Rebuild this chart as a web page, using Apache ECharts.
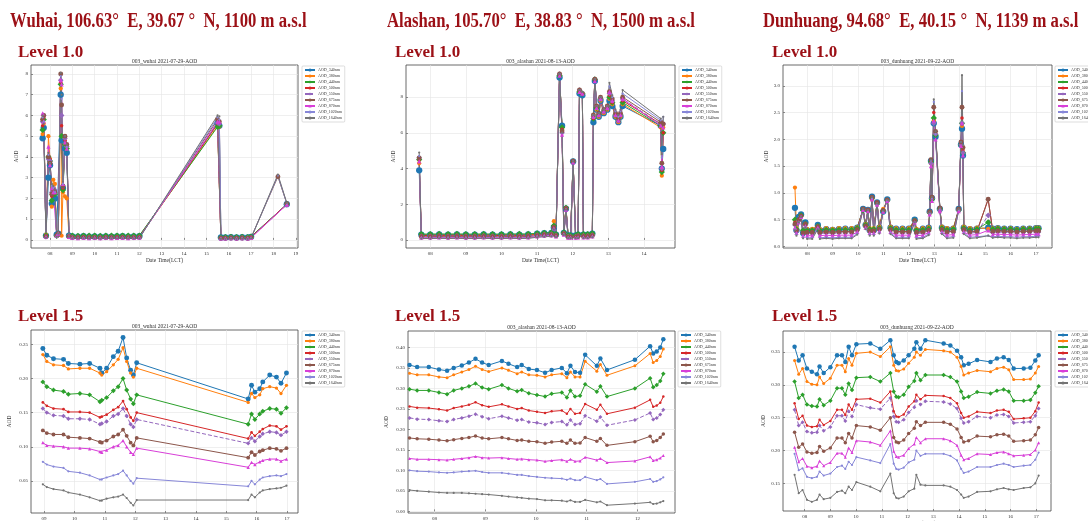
<!DOCTYPE html>
<html>
<head>
<meta charset="utf-8">
<script src="https://cdn.jsdelivr.net/npm/echarts@6.0.0/dist/echarts.min.js"></script>
<style>
  html, body { margin: 0; padding: 0; background: #fff; }
  #main { width: 1088px; height: 521px; }
</style>
</head>
<body>
<div id="main"></div>
<script>
// wavelengths, same order in every panel
const bands = ['AOD_340nm', 'AOD_380nm', 'AOD_440nm', 'AOD_500nm', 'AOD_550nm', 'AOD_675nm', 'AOD_870nm', 'AOD_1020nm', 'AOD_1640nm'];

// ---- Wuhai, level 1.0 ----
const wuhaiL10Time = [7.67, 7.72, 7.82, 7.93, 8.0, 8.08, 8.15, 8.22, 8.3, 8.37, 8.48, 8.52, 8.58, 8.67, 8.75, 8.85,
  9.0, 9.25, 9.5, 9.75, 10.0, 10.25, 10.5, 10.75, 11.0, 11.25, 11.5, 11.75, 12.0,
  15.5, 15.58, 15.65, 15.85, 16.1, 16.35, 16.6, 16.85, 17.0, 18.2, 18.6];
const wuhaiL10 = [
  [4.9, 5.4, 0.2, 3.0, 3.6, 1.75, 2.2, 2.0, 0.25, 0.3, 7.0, 4.8, 2.5, 4.4, 4.2, 0.2, 0.17, 0.16, 0.18, 0.16, 0.17, 0.16, 0.17, 0.16, 0.17, 0.18, 0.16, 0.17, 0.18, 5.6, 5.5, 0.12, 0.12, 0.13, 0.12, 0.13, 0.12, 0.15, null, 1.72],
  [5.1, 5.6, 0.25, 5.0, 3.9, 1.6, 2.9, 2.7, 0.2, 0.3, 7.3, 0.2, 2.3, 2.1, 2.0, 0.2, 0.15, 0.15, 0.16, 0.15, 0.15, 0.14, 0.15, 0.15, 0.16, 0.16, 0.15, 0.15, 0.16, 5.5, 5.45, 0.1, 0.11, 0.12, 0.11, 0.12, 0.11, 0.14, null, 1.7],
  [5.3, 5.8, 0.2, 4.0, 3.8, 1.9, 2.3, 2.2, 0.2, 0.3, 7.5, 5.0, 2.4, 4.6, 4.4, 0.2, 0.2, 0.19, 0.21, 0.2, 0.2, 0.19, 0.2, 0.2, 0.21, 0.21, 0.2, 0.2, 0.21, 5.45, 5.5, 0.12, 0.13, 0.14, 0.13, 0.14, 0.13, 0.16, null, 1.72],
  [5.5, 5.9, 0.2, 4.0, 3.9, 2.1, 2.4, 2.3, 0.2, 0.3, 7.6, 5.5, 2.5, 4.8, 4.6, 0.2, 0.14, 0.14, 0.15, 0.14, 0.14, 0.13, 0.14, 0.14, 0.15, 0.15, 0.14, 0.14, 0.15, 5.6, 5.6, 0.1, 0.1, 0.11, 0.1, 0.11, 0.1, 0.13, null, 1.72],
  [5.7, 6.0, 0.15, 3.9, 3.8, 2.3, 2.5, 2.4, 0.2, 0.3, 7.7, 6.0, 2.6, 4.9, 4.5, 0.2, 0.12, 0.12, 0.13, 0.12, 0.12, 0.11, 0.12, 0.12, 0.13, 0.13, 0.12, 0.12, 0.13, 5.65, 5.6, 0.09, 0.09, 0.1, 0.09, 0.1, 0.09, 0.12, null, 1.7],
  [5.8, 6.0, 0.15, 4.0, 3.7, 2.2, 2.4, 2.3, 0.2, 0.3, 8.0, 6.5, 2.6, 5.0, 4.6, 0.15, 0.11, 0.11, 0.12, 0.11, 0.11, 0.1, 0.11, 0.11, 0.12, 0.12, 0.11, 0.11, 0.12, 5.8, 5.7, 0.08, 0.08, 0.09, 0.08, 0.09, 0.08, 0.11, 3.05, 1.75],
  [6.1, 5.7, 0.15, 4.5, 3.6, 2.5, 2.3, 2.3, 0.2, 0.3, 7.7, 7.5, 2.7, 4.7, 4.4, 0.15, 0.1, 0.09, 0.1, 0.09, 0.1, 0.09, 0.1, 0.09, 0.1, 0.1, 0.09, 0.1, 0.11, 5.7, 5.7, 0.07, 0.07, 0.08, 0.07, 0.08, 0.07, 0.1, null, 1.7],
  [5.9, 5.7, 0.1, 4.1, 3.7, 2.6, 2.5, 2.3, 0.15, 0.3, 7.9, 6.8, 2.7, 5.0, 4.5, 0.15, 0.08, 0.08, 0.09, 0.08, 0.08, 0.07, 0.08, 0.08, 0.09, 0.09, 0.08, 0.08, 0.09, 5.9, 5.8, 0.06, 0.06, 0.07, 0.06, 0.07, 0.06, 0.09, 3.1, 1.75],
  [6.0, 5.6, 0.1, 4.2, 3.7, 2.7, 2.6, 2.4, 0.15, 0.3, 8.05, 7.0, 2.8, 5.0, 4.6, 0.15, 0.07, 0.07, 0.08, 0.07, 0.07, 0.06, 0.07, 0.07, 0.08, 0.08, 0.07, 0.07, 0.08, 6.0, 5.95, 0.05, 0.05, 0.06, 0.05, 0.06, 0.05, 0.08, 3.15, 1.78]
];
const wuhaiL10XTicks = [8, 9, 10, 11, 12, 13, 14, 15, 16, 17, 18, 19];
const wuhaiL10YTicks = [0, 1, 2, 3, 4, 5, 6, 7, 8];

// ---- Alashan, level 1.0 ----
const alashanL10Time = [7.69, 7.75, 8.0, 8.25, 8.5, 8.75, 9.0, 9.25, 9.5, 9.75, 10.0, 10.25, 10.5, 10.75,
  11.0, 11.2, 11.4, 11.47, 11.53, 11.63, 11.7, 11.75, 11.81, 11.87, 11.94, 12.01, 12.08, 12.15, 12.19, 12.27, 12.3,
  12.42, 12.55, 12.58, 12.62, 12.67, 12.73, 12.78, 12.87, 12.97, 13.03, 13.11, 13.2, 13.28, 13.34, 13.4, 14.47, 14.5, 14.54];
const alashanL10 = [
  [3.9, 0.3, 0.3, 0.31, 0.3, 0.31, 0.3, 0.3, 0.31, 0.3, 0.3, 0.31, 0.3, 0.31, 0.35, 0.38, 0.4, 0.7, 0.3, 9.1, 6.4, 0.4, 1.75, 0.25, 0.25, 4.4, 0.25, 0.3, 8.2, 8.1, 0.3, 0.3, 0.35, 6.6, 8.9, 7.3, 6.9, 7.8, 7.1, 7.3, 7.8, 7.5, 6.9, 6.6, 6.9, 7.5, 6.4, 4.0, 5.1],
  [4.3, 0.28, 0.27, 0.28, 0.27, 0.28, 0.27, 0.27, 0.28, 0.27, 0.27, 0.28, 0.27, 0.28, 0.32, 0.36, 0.38, 1.05, 0.3, 9.2, 6.2, 0.4, 1.8, 0.22, 0.22, 4.4, 0.22, 0.28, 8.3, 8.2, 0.28, 0.28, 0.32, 6.9, 9.0, 7.3, 6.9, 7.8, 7.1, 7.3, 7.9, 7.6, 6.9, 6.6, 6.9, 7.6, 6.3, 3.6, 6.3],
  [4.5, 0.33, 0.33, 0.34, 0.33, 0.34, 0.33, 0.33, 0.34, 0.33, 0.33, 0.34, 0.34, 0.34, 0.37, 0.4, 0.42, 0.8, 0.32, 9.2, 6.3, 0.42, 1.8, 0.25, 0.25, 4.4, 0.25, 0.33, 8.3, 8.2, 0.33, 0.33, 0.37, 6.8, 9.0, 7.4, 7.0, 7.9, 7.2, 7.4, 8.0, 7.7, 7.0, 6.7, 7.0, 7.7, 6.4, 3.8, 6.0],
  [4.5, 0.25, 0.25, 0.26, 0.25, 0.26, 0.25, 0.25, 0.26, 0.25, 0.25, 0.26, 0.25, 0.26, 0.3, 0.33, 0.35, 0.75, 0.28, 9.25, 6.2, 0.38, 1.8, 0.2, 0.2, 4.45, 0.2, 0.26, 8.35, 8.2, 0.26, 0.26, 0.3, 6.8, 9.0, 7.4, 7.0, 7.9, 7.2, 7.4, 8.1, 7.7, 7.0, 6.7, 7.0, 7.8, 6.5, 3.9, 6.0],
  [4.6, 0.2, 0.21, 0.22, 0.21, 0.22, 0.21, 0.21, 0.22, 0.21, 0.21, 0.22, 0.21, 0.22, 0.26, 0.3, 0.32, 0.7, 0.25, 9.3, 6.0, 0.36, 1.75, 0.18, 0.18, 4.4, 0.18, 0.22, 8.4, 8.2, 0.22, 0.22, 0.26, 6.9, 9.0, 7.5, 7.0, 7.9, 7.2, 7.4, 8.2, 7.8, 7.0, 6.7, 7.0, 7.9, 6.5, 4.0, 6.5],
  [4.6, 0.18, 0.18, 0.19, 0.18, 0.19, 0.18, 0.18, 0.19, 0.18, 0.18, 0.19, 0.18, 0.19, 0.24, 0.28, 0.3, 0.7, 0.24, 9.3, 6.1, 0.35, 1.75, 0.17, 0.17, 4.4, 0.17, 0.2, 8.4, 8.2, 0.2, 0.2, 0.24, 7.0, 9.0, 7.5, 7.1, 8.0, 7.3, 7.5, 8.3, 7.9, 7.1, 6.8, 7.1, 8.0, 6.6, 4.3, 6.5],
  [4.4, 0.13, 0.13, 0.14, 0.13, 0.14, 0.13, 0.13, 0.14, 0.13, 0.13, 0.14, 0.13, 0.14, 0.2, 0.24, 0.26, 0.65, 0.2, 9.2, 5.9, 0.3, 1.7, 0.13, 0.13, 4.35, 0.13, 0.15, 8.3, 8.2, 0.15, 0.15, 0.2, 6.9, 8.9, 7.4, 7.0, 7.9, 7.2, 7.4, 8.3, 7.8, 7.0, 6.7, 7.0, 7.9, 6.4, 4.1, 6.3],
  [4.7, 0.1, 0.1, 0.11, 0.1, 0.11, 0.1, 0.1, 0.11, 0.1, 0.1, 0.11, 0.1, 0.11, 0.17, 0.2, 0.22, 0.6, 0.18, 9.3, 6.0, 0.3, 1.7, 0.11, 0.11, 4.4, 0.11, 0.12, 8.4, 8.3, 0.12, 0.12, 0.17, 7.0, 9.0, 7.5, 7.1, 8.0, 7.3, 7.5, 8.6, 8.0, 7.2, 6.9, 7.2, 8.2, 6.7, 4.6, 6.9],
  [4.9, 0.08, 0.08, 0.09, 0.08, 0.09, 0.08, 0.08, 0.09, 0.08, 0.08, 0.09, 0.08, 0.09, 0.15, 0.18, 0.2, 0.6, 0.16, 9.3, 6.0, 0.28, 1.7, 0.1, 0.1, 4.4, 0.1, 0.1, 8.4, 8.3, 0.1, 0.1, 0.15, 7.0, 9.0, 7.5, 7.1, 8.0, 7.3, 7.5, 8.8, 8.1, 7.3, 7.0, 7.3, 8.4, 6.8, 4.8, 6.9]
];
const alashanL10XTicks = [8, 9, 10, 11, 12, 13, 14];
const alashanL10YTicks = [0, 2, 4, 6, 8];

// ---- Dunhuang, level 1.0 ----
const dunhuangL10Time = [7.52, 7.58, 7.67, 7.76, 7.84, 7.93,
  8.0, 8.2, 8.42, 8.5, 8.75, 9.0, 9.25, 9.5, 9.75, 9.97,
  10.2, 10.3, 10.39, 10.46, 10.55, 10.62, 10.75, 10.84, 10.99,
  11.15, 11.28, 11.5, 11.75,
  12.0, 12.23, 12.3, 12.55, 12.78, 12.82, 12.87, 12.91, 12.98,
  13.05, 13.22, 13.3, 13.5, 13.75, 13.96,
  14.05, 14.09, 14.13, 14.16, 14.4, 14.68,
  15.12, 15.3, 15.5, 15.75,
  16.0, 16.25, 16.5, 16.75, 17.0, 17.1];
const dunhuangL10 = [
  [0.72, 0.3, 0.55, 0.6, 0.25, 0.45, 0.3, 0.3, 0.4, 0.3, 0.32, 0.31, 0.32, 0.33, 0.32, 0.35, 0.7, 0.4, 0.68, 0.3, 0.93, 0.3, 0.82, 0.35, 0.65, 0.88, 0.35, 0.33, 0.33, 0.33, 0.5, 0.3, 0.33, 0.35, 0.65, 1.6, 0.9, 2.3, 2.05, 0.7, 0.35, 0.32, 0.33, 0.7, 1.9, 2.2, 1.7, 0.35, 0.32, 0.33, 0.35, 0.33, 0.34, 0.33, 0.33, 0.32, 0.33, 0.33, 0.34, 0.34],
  [1.1, 0.35, 0.5, 0.55, 0.28, 0.4, 0.33, 0.33, 0.38, 0.33, 0.34, 0.33, 0.34, 0.34, 0.34, 0.36, 0.68, 0.42, 0.66, 0.34, 0.88, 0.34, 0.8, 0.37, 0.7, 0.86, 0.37, 0.34, 0.34, 0.34, 0.48, 0.33, 0.34, 0.36, 0.62, 1.55, 0.88, 2.35, 2.1, 0.68, 0.37, 0.34, 0.35, 0.68, 1.9, 2.25, 1.75, 0.37, 0.34, 0.35, 0.33, 0.34, 0.35, 0.34, 0.34, 0.33, 0.34, 0.34, 0.35, 0.35],
  [0.5, 0.32, 0.5, 0.58, 0.3, 0.42, 0.3, 0.3, 0.38, 0.3, 0.31, 0.3, 0.31, 0.31, 0.31, 0.34, 0.68, 0.4, 0.67, 0.32, 0.9, 0.32, 0.8, 0.34, 0.66, 0.86, 0.34, 0.31, 0.31, 0.31, 0.48, 0.3, 0.31, 0.33, 0.63, 1.58, 0.88, 2.4, 2.08, 0.7, 0.34, 0.31, 0.32, 0.68, 1.9, 2.3, 1.75, 0.34, 0.31, 0.32, 0.45, 0.32, 0.33, 0.32, 0.32, 0.31, 0.32, 0.32, 0.33, 0.33],
  [0.45, 0.3, 0.5, 0.57, 0.26, 0.42, 0.27, 0.27, 0.37, 0.27, 0.28, 0.27, 0.28, 0.28, 0.28, 0.32, 0.69, 0.38, 0.67, 0.3, 0.9, 0.3, 0.8, 0.33, 0.66, 0.86, 0.32, 0.28, 0.28, 0.28, 0.48, 0.27, 0.28, 0.31, 0.63, 1.6, 0.9, 2.5, 2.1, 0.7, 0.32, 0.28, 0.29, 0.68, 1.92, 2.4, 1.8, 0.32, 0.28, 0.29, 0.88, 0.29, 0.3, 0.29, 0.29, 0.28, 0.29, 0.29, 0.3, 0.3],
  [0.4, 0.28, 0.48, 0.56, 0.24, 0.4, 0.24, 0.24, 0.36, 0.24, 0.25, 0.24, 0.25, 0.25, 0.25, 0.3, 0.69, 0.37, 0.68, 0.28, 0.9, 0.28, 0.8, 0.31, 0.66, 0.86, 0.3, 0.25, 0.25, 0.25, 0.47, 0.24, 0.25, 0.29, 0.63, 1.55, 0.9, 2.3, 2.1, 0.68, 0.3, 0.25, 0.26, 0.68, 1.9, 2.3, 1.75, 0.3, 0.25, 0.26, 0.58, 0.26, 0.27, 0.26, 0.26, 0.25, 0.26, 0.26, 0.27, 0.27],
  [0.42, 0.3, 0.5, 0.57, 0.25, 0.42, 0.26, 0.26, 0.37, 0.26, 0.27, 0.26, 0.27, 0.27, 0.27, 0.31, 0.7, 0.38, 0.68, 0.29, 0.92, 0.29, 0.82, 0.32, 0.67, 0.87, 0.31, 0.27, 0.27, 0.27, 0.48, 0.26, 0.27, 0.3, 0.65, 1.62, 0.92, 2.6, 2.15, 0.72, 0.31, 0.27, 0.28, 0.7, 1.95, 2.6, 1.85, 0.31, 0.27, 0.28, 0.88, 0.28, 0.29, 0.28, 0.28, 0.27, 0.28, 0.28, 0.29, 0.29],
  [0.35, 0.25, 0.45, 0.55, 0.2, 0.38, 0.2, 0.2, 0.35, 0.2, 0.21, 0.2, 0.21, 0.21, 0.21, 0.27, 0.68, 0.35, 0.66, 0.25, 0.88, 0.25, 0.78, 0.28, 0.65, 0.85, 0.27, 0.21, 0.21, 0.21, 0.45, 0.2, 0.21, 0.26, 0.6, 1.5, 0.85, 2.35, 2.0, 0.66, 0.27, 0.21, 0.22, 0.66, 1.88, 2.3, 1.7, 0.27, 0.21, 0.22, 0.3, 0.22, 0.23, 0.22, 0.22, 0.21, 0.22, 0.22, 0.23, 0.23],
  [0.32, 0.22, 0.45, 0.55, 0.17, 0.36, 0.16, 0.16, 0.33, 0.16, 0.17, 0.16, 0.17, 0.17, 0.17, 0.24, 0.7, 0.33, 0.68, 0.22, 0.9, 0.22, 0.8, 0.26, 0.66, 0.86, 0.25, 0.17, 0.17, 0.17, 0.45, 0.16, 0.17, 0.23, 0.62, 1.6, 0.9, 2.7, 2.1, 0.7, 0.25, 0.17, 0.18, 0.68, 1.95, 2.9, 1.9, 0.25, 0.17, 0.18, 0.2, 0.18, 0.19, 0.18, 0.18, 0.17, 0.18, 0.18, 0.19, 0.19],
  [0.3, 0.2, 0.45, 0.55, 0.15, 0.35, 0.14, 0.14, 0.32, 0.14, 0.15, 0.14, 0.15, 0.15, 0.15, 0.22, 0.7, 0.32, 0.68, 0.2, 0.92, 0.2, 0.8, 0.24, 0.67, 0.87, 0.23, 0.15, 0.15, 0.15, 0.45, 0.14, 0.15, 0.21, 0.64, 1.62, 0.92, 2.75, 2.15, 0.72, 0.23, 0.15, 0.16, 0.7, 1.95, 3.2, 1.9, 0.23, 0.15, 0.16, 0.2, 0.16, 0.17, 0.16, 0.16, 0.15, 0.16, 0.16, 0.17, 0.17]
];
const dunhuangL10XTicks = [8, 9, 10, 11, 12, 13, 14, 15, 16, 17];
const dunhuangL10YTicks = [0, 0.5, 1, 1.5, 2, 2.5, 3];

// ---- Wuhai, level 1.5 ----
const wuhaiL15Time = [8.96, 9.09, 9.31, 9.64, 9.8, 10.18, 10.5, 10.84, 10.9, 11.06, 11.28, 11.44, 11.6, 11.72, 11.85, 11.94, 12.05,
  15.72, 15.83, 15.94, 16.1, 16.2, 16.43, 16.65, 16.8, 16.98];
const wuhaiL15 = [
  [0.244, 0.234, 0.229, 0.228, 0.222, 0.221, 0.222, 0.215, 0.208, 0.215, 0.232, 0.24, 0.26, 0.23, 0.212, 0.205, 0.223, 0.17, 0.19, 0.18, 0.185, 0.195, 0.205, 0.202, 0.193, 0.208],
  [0.235, 0.225, 0.22, 0.219, 0.214, 0.215, 0.215, 0.208, 0.205, 0.21, 0.22, 0.228, 0.245, 0.225, 0.208, 0.202, 0.215, 0.165, 0.178, 0.172, 0.176, 0.185, 0.188, 0.186, 0.178, 0.19],
  [0.195, 0.188, 0.183, 0.181, 0.177, 0.178, 0.176, 0.166, 0.168, 0.172, 0.182, 0.188, 0.2, 0.183, 0.17, 0.163, 0.176, 0.133, 0.148, 0.14, 0.148, 0.152, 0.156, 0.155, 0.149, 0.157],
  [0.165, 0.16, 0.156, 0.155, 0.151, 0.151, 0.15, 0.143, 0.144, 0.147, 0.154, 0.158, 0.167, 0.155, 0.143, 0.138, 0.15, 0.112, 0.121, 0.116, 0.122, 0.126, 0.131, 0.13, 0.125, 0.13],
  [0.156, 0.15, 0.146, 0.145, 0.141, 0.141, 0.14, 0.133, 0.134, 0.137, 0.145, 0.148, 0.156, 0.145, 0.133, 0.129, 0.14, 0.105, 0.113, 0.108, 0.115, 0.119, 0.122, 0.121, 0.117, 0.122],
  [0.124, 0.12, 0.118, 0.118, 0.114, 0.113, 0.112, 0.107, 0.106, 0.109, 0.115, 0.118, 0.125, 0.116, 0.106, 0.102, 0.113, 0.084, 0.092, 0.088, 0.093, 0.095, 0.098, 0.097, 0.094, 0.098],
  [0.106, 0.102, 0.101, 0.1, 0.098, 0.098, 0.097, 0.093, 0.092, 0.095, 0.1, 0.102, 0.109, 0.1, 0.092, 0.089, 0.098, 0.07, 0.077, 0.074, 0.078, 0.08, 0.082, 0.082, 0.079, 0.082],
  [0.078, 0.074, 0.071, 0.069, 0.064, 0.062, 0.058, 0.052, 0.052, 0.055, 0.058, 0.06, 0.065, 0.058, 0.05, 0.046, 0.054, 0.042, 0.05, 0.045, 0.052, 0.055, 0.057, 0.058, 0.057, 0.06],
  [0.045, 0.041, 0.038, 0.036, 0.033, 0.03, 0.026, 0.021, 0.021, 0.024, 0.026, 0.027, 0.03, 0.025, 0.018, 0.014, 0.022, 0.022, 0.03, 0.026, 0.033, 0.036, 0.038, 0.039, 0.04, 0.043]
];
const wuhaiL15XTicks = [9, 10, 11, 12, 13, 14, 15, 16, 17];
const wuhaiL15YTicks = [0.05, 0.1, 0.15, 0.2, 0.25];

// ---- Alashan, level 1.5 ----
const alashanL15Time = [7.51, 7.66, 7.89, 8.09, 8.25, 8.38, 8.54, 8.68, 8.81, 8.94, 9.07, 9.33, 9.46, 9.63, 9.72, 9.86, 10.02,
  10.18, 10.31, 10.51, 10.61, 10.68, 10.77, 10.87, 10.97, 11.2, 11.27, 11.4, 11.95, 12.25, 12.31, 12.38, 12.45, 12.51];
const alashanL15 = [
  [0.357, 0.352, 0.352, 0.346, 0.343, 0.35, 0.356, 0.363, 0.372, 0.363, 0.357, 0.367, 0.36, 0.352, 0.357, 0.347, 0.345, 0.338, 0.345, 0.35, 0.337, 0.355, 0.34, 0.338, 0.382, 0.355, 0.373, 0.345, 0.37, 0.403, 0.385, 0.39, 0.4, 0.42],
  [0.337, 0.333, 0.333, 0.328, 0.326, 0.333, 0.34, 0.346, 0.354, 0.346, 0.341, 0.35, 0.344, 0.336, 0.34, 0.333, 0.332, 0.328, 0.333, 0.336, 0.326, 0.34, 0.328, 0.328, 0.366, 0.342, 0.358, 0.332, 0.355, 0.385, 0.363, 0.368, 0.378, 0.396],
  [0.298, 0.295, 0.295, 0.29, 0.286, 0.295, 0.3, 0.305, 0.312, 0.302, 0.298, 0.308, 0.3, 0.293, 0.296, 0.288, 0.284, 0.28, 0.287, 0.29, 0.278, 0.295, 0.28, 0.282, 0.31, 0.292, 0.305, 0.28, 0.3, 0.325, 0.303, 0.308, 0.318, 0.336],
  [0.256, 0.253, 0.252, 0.249, 0.246, 0.252, 0.256, 0.26, 0.266, 0.259, 0.255, 0.261, 0.256, 0.25, 0.252, 0.246, 0.243, 0.24, 0.244, 0.246, 0.238, 0.25, 0.238, 0.24, 0.262, 0.248, 0.26, 0.238, 0.253, 0.272, 0.255, 0.258, 0.265, 0.28],
  [0.228, 0.225, 0.224, 0.221, 0.219, 0.224, 0.228, 0.232, 0.237, 0.231, 0.226, 0.232, 0.228, 0.222, 0.224, 0.218, 0.216, 0.212, 0.217, 0.219, 0.211, 0.223, 0.212, 0.214, 0.233, 0.22, 0.23, 0.21, 0.223, 0.24, 0.224, 0.228, 0.236, 0.248],
  [0.179, 0.177, 0.176, 0.174, 0.172, 0.175, 0.178, 0.18, 0.184, 0.179, 0.177, 0.18, 0.177, 0.173, 0.174, 0.171, 0.17, 0.166, 0.169, 0.171, 0.166, 0.174, 0.166, 0.167, 0.18, 0.171, 0.178, 0.161, 0.17, 0.183, 0.17, 0.173, 0.18, 0.189],
  [0.129, 0.127, 0.127, 0.126, 0.125, 0.127, 0.129, 0.131, 0.134, 0.131, 0.13, 0.131, 0.129, 0.127, 0.128, 0.126, 0.125, 0.122, 0.124, 0.126, 0.122, 0.127, 0.122, 0.123, 0.132, 0.125, 0.129, 0.119, 0.123, 0.133, 0.124, 0.126, 0.13, 0.136],
  [0.1, 0.098, 0.097, 0.095, 0.094, 0.095, 0.097, 0.098, 0.099, 0.096, 0.094, 0.094, 0.092, 0.089, 0.089, 0.086, 0.084, 0.082, 0.081, 0.08, 0.077, 0.08, 0.076, 0.076, 0.084, 0.076, 0.079, 0.067, 0.072, 0.079, 0.072, 0.074, 0.078, 0.083],
  [0.052, 0.05, 0.048, 0.046, 0.045, 0.045, 0.045, 0.044, 0.043, 0.042, 0.041, 0.038, 0.036, 0.034, 0.033, 0.031, 0.03, 0.027, 0.027, 0.026, 0.024, 0.027, 0.023, 0.023, 0.028, 0.022, 0.024, 0.015, 0.019, 0.022, 0.018, 0.019, 0.022, 0.025]
];
const alashanL15XTicks = [8, 9, 10, 11, 12];
const alashanL15YTicks = [0, 0.05, 0.1, 0.15, 0.2, 0.25, 0.3, 0.35, 0.4];

// ---- Dunhuang, level 1.5 ----
const dunhuangL15Time = [7.61, 7.77, 7.92, 8.09, 8.28, 8.48, 8.58, 8.74, 9.0, 9.26, 9.45, 9.58, 9.71, 9.84, 10.01, 10.55, 10.94,
  11.33, 11.46, 11.56, 11.65, 11.85, 12.04, 12.26, 12.34, 12.5, 12.69, 13.4, 13.66, 13.92, 14.08, 14.18, 14.37, 14.7,
  15.22, 15.47, 15.73, 15.93, 16.12, 16.51, 16.77, 16.96, 17.09];
const dunhuangL15 = [
  [0.358, 0.337, 0.345, 0.325, 0.32, 0.316, 0.328, 0.318, 0.327, 0.345, 0.345, 0.335, 0.358, 0.345, 0.362, 0.363, 0.355, 0.368, 0.345, 0.335, 0.333, 0.337, 0.345, 0.355, 0.365, 0.355, 0.368, 0.363, 0.36, 0.352, 0.342, 0.33, 0.332, 0.338, 0.335, 0.34, 0.342, 0.338, 0.325, 0.325, 0.326, 0.337, 0.345],
  [0.337, 0.316, 0.325, 0.305, 0.301, 0.3, 0.312, 0.302, 0.31, 0.33, 0.33, 0.32, 0.34, 0.33, 0.348, 0.35, 0.343, 0.358, 0.33, 0.322, 0.321, 0.324, 0.333, 0.342, 0.35, 0.345, 0.354, 0.352, 0.35, 0.342, 0.328, 0.315, 0.318, 0.322, 0.32, 0.325, 0.327, 0.323, 0.308, 0.308, 0.309, 0.318, 0.328],
  [0.305, 0.28, 0.285, 0.27, 0.268, 0.267, 0.278, 0.269, 0.276, 0.295, 0.295, 0.285, 0.302, 0.292, 0.311, 0.312, 0.305, 0.318, 0.29, 0.282, 0.281, 0.285, 0.297, 0.306, 0.318, 0.307, 0.315, 0.315, 0.312, 0.305, 0.29, 0.28, 0.282, 0.289, 0.287, 0.291, 0.293, 0.29, 0.276, 0.276, 0.277, 0.288, 0.298],
  [0.272, 0.248, 0.253, 0.238, 0.236, 0.237, 0.247, 0.239, 0.245, 0.262, 0.262, 0.254, 0.27, 0.262, 0.278, 0.279, 0.273, 0.29, 0.26, 0.252, 0.251, 0.255, 0.267, 0.275, 0.285, 0.278, 0.284, 0.283, 0.28, 0.272, 0.257, 0.25, 0.252, 0.259, 0.257, 0.261, 0.262, 0.259, 0.248, 0.249, 0.25, 0.26, 0.273],
  [0.262, 0.238, 0.243, 0.229, 0.227, 0.228, 0.238, 0.23, 0.236, 0.253, 0.253, 0.245, 0.26, 0.252, 0.27, 0.265, 0.263, 0.28, 0.252, 0.244, 0.243, 0.247, 0.258, 0.266, 0.276, 0.27, 0.275, 0.274, 0.271, 0.264, 0.249, 0.242, 0.244, 0.252, 0.25, 0.254, 0.255, 0.252, 0.242, 0.243, 0.244, 0.253, 0.264],
  [0.228, 0.205, 0.21, 0.198, 0.196, 0.197, 0.206, 0.199, 0.204, 0.219, 0.219, 0.212, 0.226, 0.219, 0.238, 0.236, 0.231, 0.25, 0.22, 0.213, 0.212, 0.216, 0.226, 0.234, 0.244, 0.238, 0.243, 0.243, 0.24, 0.233, 0.22, 0.213, 0.215, 0.222, 0.221, 0.224, 0.225, 0.222, 0.214, 0.215, 0.216, 0.224, 0.235],
  [0.205, 0.183, 0.188, 0.176, 0.174, 0.176, 0.184, 0.177, 0.182, 0.196, 0.196, 0.19, 0.204, 0.197, 0.215, 0.213, 0.208, 0.23, 0.199, 0.191, 0.19, 0.193, 0.203, 0.21, 0.22, 0.212, 0.218, 0.218, 0.215, 0.208, 0.193, 0.186, 0.188, 0.195, 0.194, 0.197, 0.198, 0.195, 0.192, 0.193, 0.194, 0.201, 0.212],
  [0.195, 0.17, 0.173, 0.16, 0.158, 0.16, 0.168, 0.162, 0.165, 0.175, 0.177, 0.172, 0.183, 0.178, 0.19, 0.185, 0.181, 0.21, 0.18, 0.172, 0.171, 0.174, 0.182, 0.186, 0.2, 0.192, 0.195, 0.195, 0.192, 0.185, 0.172, 0.166, 0.168, 0.175, 0.175, 0.178, 0.18, 0.178, 0.175, 0.177, 0.178, 0.186, 0.197],
  [0.163, 0.135, 0.14, 0.125, 0.122, 0.125, 0.133, 0.126, 0.128, 0.137, 0.139, 0.135, 0.145, 0.14, 0.152, 0.145, 0.138, 0.165, 0.135, 0.128, 0.127, 0.13, 0.138, 0.142, 0.163, 0.148, 0.147, 0.147, 0.145, 0.14, 0.133, 0.128, 0.13, 0.137, 0.138, 0.141, 0.143, 0.141, 0.14, 0.143, 0.144, 0.15, 0.162]
];
const dunhuangL15XTicks = [8, 9, 10, 11, 12, 13, 14, 15, 16, 17];
const dunhuangL15YTicks = [0.15, 0.2, 0.25, 0.3, 0.35];

// matplotlib-like look
const bandColors = ['#1f77b4', '#ff7f0e', '#2ca02c', '#d62728', '#9467bd', '#8c564b', '#d83fd8', '#8787d8', '#747474'];
const bandSymbols = ['circle', 'circle', 'diamond', 'circle', 'diamond', 'circle', 'triangle', 'circle', 'circle'];
const bandSizes = [4.5, 3, 4.5, 2.5, 4, 3.5, 3, 1.5, 1.5];
const serif = '"Liberation Serif", "DejaVu Serif", serif';

// level 1.0 panels get fatter markers (the dense bands in the slide)
const panels = [
  { title: '003_wuhai 2021-07-29-AOD', time: wuhaiL10Time, values: wuhaiL10, xTicks: wuhaiL10XTicks, yTicks: wuhaiL10YTicks,
    yDigits: 0, xRange: [7.15, 19.1], yRange: [-0.39, 8.43], box: [31, 65, 267, 183], legendAt: [302, 66], yGap: 11, mark: 1.4 },
  { title: '003_alashan 2021-08-13-AOD', time: alashanL10Time, values: alashanL10, xTicks: alashanL10XTicks, yTicks: alashanL10YTicks,
    yDigits: 0, xRange: [7.32, 14.87], yRange: [-0.45, 9.8], box: [406, 65, 269, 183], legendAt: [679, 66], yGap: 9, mark: 1.4 },
  { title: '003_dunhuang 2021-09-22-AOD', time: dunhuangL10Time, values: dunhuangL10, xTicks: dunhuangL10XTicks, yTicks: dunhuangL10YTicks,
    yDigits: 1, xRange: [7.05, 17.63], yRange: [-0.03, 3.39], box: [783, 65, 269, 183], legendAt: [1055, 66], yGap: 13, mark: 1.4 },
  { title: '003_wuhai 2021-07-29-AOD', time: wuhaiL15Time, values: wuhaiL15, xTicks: wuhaiL15XTicks, yTicks: wuhaiL15YTicks,
    yDigits: 2, xRange: [8.57, 17.36], yRange: [0.003, 0.271], box: [31, 330, 267, 183], legendAt: [302, 331], yGap: 18, mark: 1.1 },
  { title: '003_alashan 2021-08-13-AOD', time: alashanL15Time, values: alashanL15, xTicks: alashanL15XTicks, yTicks: alashanL15YTicks,
    yDigits: 2, xRange: [7.48, 12.74], yRange: [-0.004, 0.44], box: [408, 331, 267, 182], legendAt: [678, 331], yGap: 18, mark: 1 },
  { title: '003_dunhuang 2021-09-22-AOD', time: dunhuangL15Time, values: dunhuangL15, xTicks: dunhuangL15XTicks, yTicks: dunhuangL15YTicks,
    yDigits: 2, xRange: [7.16, 17.57], yRange: [0.108, 0.382], box: [783, 331, 268, 180], legendAt: [1055, 331], yGap: 16, mark: 1 }
];

const grids = [], xAxes = [], yAxes = [], legends = [], series = [];
const graphics = [];

panels.forEach(function (p, i) {
  grids.push({ left: p.box[0], top: p.box[1], width: p.box[2], height: p.box[3], show: true,
    containLabel: false, outerBoundsMode: 'none',
    borderColor: '#444', borderWidth: 0.8, backgroundColor: '#fff' });

  xAxes.push({
    type: 'value', gridIndex: i, min: p.xRange[0], max: p.xRange[1],
    name: 'Date Time(LCT)', nameLocation: 'middle', nameGap: 10,
    nameTextStyle: { fontSize: 5.5, fontFamily: serif, color: '#333' },
    axisLine: { show: false },
    axisTick: { show: true, inside: true, length: 2, customValues: p.xTicks, lineStyle: { color: '#444', width: 0.6 } },
    axisLabel: { customValues: p.xTicks, fontSize: 5, fontFamily: serif, color: '#333', margin: 3,
      formatter: function (v) { return (v < 10 ? '0' : '') + v; } },
    splitLine: { show: true, lineStyle: { color: '#e4e4e4', width: 0.6 } }
  });

  yAxes.push({
    type: 'value', gridIndex: i, min: p.yRange[0], max: p.yRange[1],
    name: 'AOD', nameLocation: 'middle', nameGap: p.yGap, nameRotate: 90,
    nameTextStyle: { fontSize: 5.5, fontFamily: serif, color: '#333' },
    axisLine: { show: false },
    axisTick: { show: true, inside: true, length: 2, customValues: p.yTicks, lineStyle: { color: '#444', width: 0.6 } },
    axisLabel: { customValues: p.yTicks, fontSize: 5, fontFamily: serif, color: '#333', margin: 3,
      formatter: function (v) { return v.toFixed(p.yDigits); } },
    splitLine: { show: true, lineStyle: { color: '#e4e4e4', width: 0.6 } }
  });

  legends.push({
    data: bands, orient: 'vertical', left: p.legendAt[0], top: p.legendAt[1],
    itemWidth: 10, itemHeight: 4, itemGap: 2, selectedMode: false,
    padding: [2, 3, 2, 2], borderColor: '#c8c8c8', borderWidth: 0.6, borderRadius: 1, backgroundColor: '#fff',
    textStyle: { fontSize: 4, fontFamily: serif, color: '#333', padding: [0, 0, 0, -2] }
  });

  p.values.forEach(function (vals, k) {
    series.push({
      name: bands[k], type: 'line', xAxisIndex: i, yAxisIndex: i,
      data: p.time.map(function (t, j) { return [t, vals[j]]; }),
      connectNulls: true, symbol: bandSymbols[k], symbolSize: Math.max(2.2, bandSizes[k] * p.mark),
      lineStyle: { width: 1, color: bandColors[k], type: k === 4 ? 'dashed' : 'solid' },
      itemStyle: { color: bandColors[k] },
      silent: true, animation: false, emphasis: { disabled: true }
    });
  });

  graphics.push({ type: 'text', x: p.box[0] + p.box[2] / 2, y: p.box[1] - 3,
    style: { text: p.title, font: '5.5px ' + serif, fill: '#333', textAlign: 'center', textVerticalAlign: 'middle' } });
});

// station headings (slightly condensed, as in the slide) and level labels
const headings = [
  ['Wuhai, 106.63°  E, 39.67 °  N, 1100 m a.s.l', 10],
  ['Alashan, 105.70°  E, 38.83 °  N, 1500 m a.s.l', 387],
  ['Dunhuang, 94.68°  E, 40.15 °  N, 1139 m a.s.l', 763]
];
headings.forEach(function (h) {
  graphics.push({ type: 'text', x: h[1], y: 21.5, scaleX: 0.835,
    style: { text: h[0], font: 'bold 20px ' + serif, fill: '#9c1016', textAlign: 'left', textVerticalAlign: 'middle' } });
});
[18, 395, 772].forEach(function (x) {
  graphics.push({ type: 'text', x: x, y: 52.5,
    style: { text: 'Level 1.0', font: 'bold 17px ' + serif, fill: '#9c1016', textAlign: 'left', textVerticalAlign: 'middle' } });
  graphics.push({ type: 'text', x: x, y: 316.5,
    style: { text: 'Level 1.5', font: 'bold 17px ' + serif, fill: '#9c1016', textAlign: 'left', textVerticalAlign: 'middle' } });
});

const chart = echarts.init(document.getElementById('main'), null, { renderer: 'canvas' });
chart.setOption({
  animation: false,
  backgroundColor: '#fff',
  grid: grids,
  xAxis: xAxes,
  yAxis: yAxes,
  legend: legends,
  series: series,
  graphic: graphics
});
</script>
</body>
</html>
